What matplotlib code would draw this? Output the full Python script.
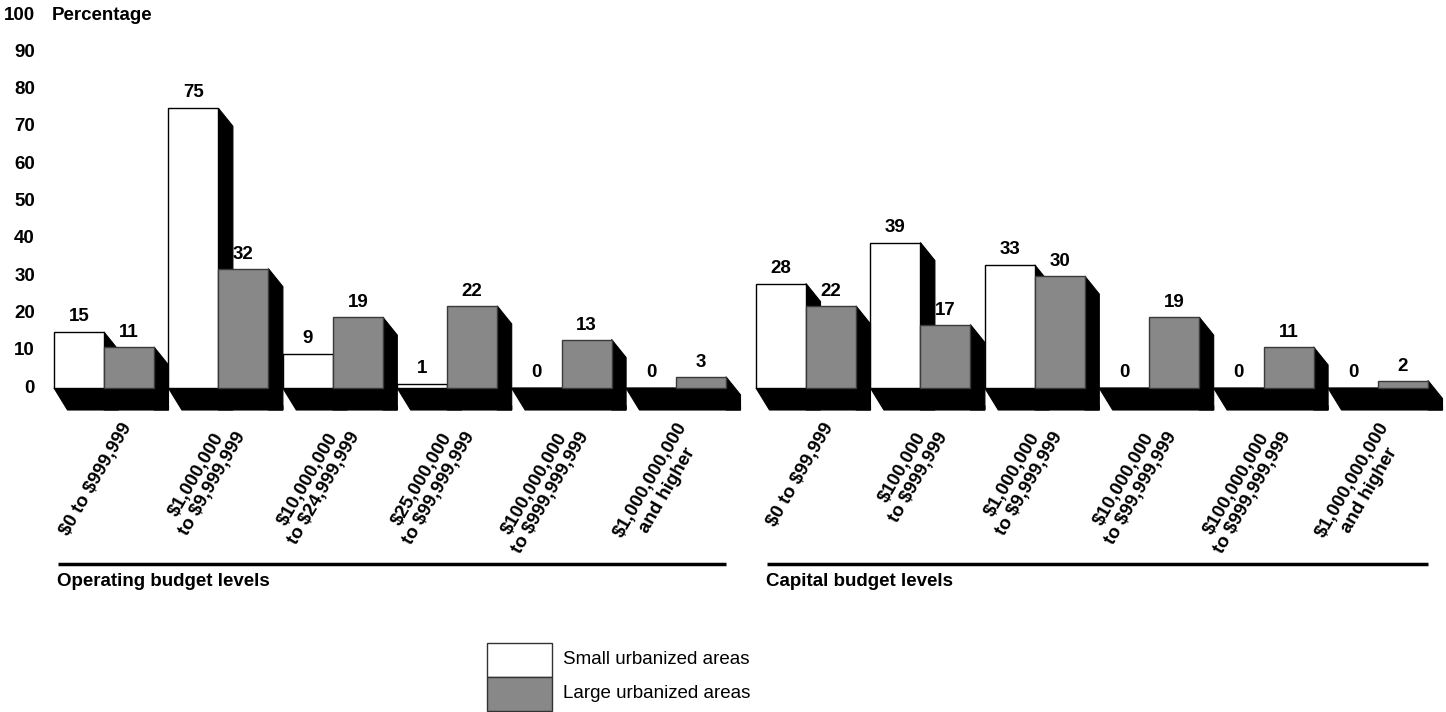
import matplotlib
matplotlib.use('Agg')
import matplotlib.pyplot as plt
from matplotlib.patches import Polygon, Rectangle

plt.rcParams['font.family'] = ['Liberation Sans', 'DejaVu Sans']

# ---------------- data ----------------
operating_categories = ["$0 to $999,999", "$1,000,000\nto $9,999,999",
                        "$10,000,000\nto $24,999,999", "$25,000,000\nto $99,999,999",
                        "$100,000,000\nto $999,999,999", "$1,000,000,000\nand higher"]
operating_small = [15, 75, 9, 1, 0, 0]
operating_large = [11, 32, 19, 22, 13, 3]

capital_categories = ["$0 to $99,999", "$100,000\nto $999,999",
                      "$1,000,000\nto $9,999,999", "$10,000,000\nto $99,999,999",
                      "$100,000,000\nto $999,999,999", "$1,000,000,000\nand higher"]
capital_small = [28, 39, 33, 0, 0, 0]
capital_large = [22, 17, 30, 19, 11, 2]

y_ticks = list(range(0, 101, 10))
y_title = "Percentage"
section_titles = ["Operating budget levels", "Capital budget levels"]
series_names = ["Small urbanized areas", "Large urbanized areas"]

# ---------------- layout ----------------
W, H = 1446, 712
fig = plt.figure(figsize=(W / 100, H / 100), dpi=100)
ax = fig.add_axes([0, 0, 1, 1])
PX = 3.73      # pixels per percentage point
BASE = 388     # pixel row of the zero line
ax.set_xlim(0, W)
ax.set_ylim(-(H - BASE) / PX, BASE / PX)
ax.axis('off')


def yp(p):
    """pixel row -> data y"""
    return (BASE - p) / PX


BAR_W = 50
PITCH = 114.4
DX = 14.5
DY_SIDE = 18 / PX
DX_FLOOR = 13.5
FLOOR_D = 22 / PX
GRAY = '#888888'
EDGE_GRAY = '#3a3a3a'
FS = 13.5

panels = [(54, operating_categories, operating_small, operating_large, section_titles[0], 4),
          (756, capital_categories, capital_small, capital_large, section_titles[1], 11)]

for start, cats, small, large, title, line_off in panels:
    x0s = [start + i * PITCH for i in range(len(cats))]
    yb = -FLOOR_D
    # floor slabs
    for x0 in x0s:
        xr = x0 + 2 * BAR_W
        ax.add_patch(Polygon([(x0, 0), (xr, 0), (xr + DX, -DY_SIDE), (xr + DX, yb),
                              (x0 + DX_FLOOR, yb)], closed=True, facecolor='black',
                             edgecolor='black', lw=0.8, zorder=1))
    # side faces of small-area bars
    for x0, h in zip(x0s, small):
        if h > 0:
            xr = x0 + BAR_W
            ax.add_patch(Polygon([(xr, h), (xr + DX, h - DY_SIDE), (xr + DX, yb), (xr, yb)],
                                 closed=True, facecolor='black', edgecolor='black',
                                 lw=0.8, zorder=2))
    ax.bar(x0s, small, width=BAR_W, align='edge', color='white', edgecolor='black',
           linewidth=1.0, zorder=3)
    # side faces of large-area bars
    for x0, h in zip(x0s, large):
        xr = x0 + 2 * BAR_W
        ax.add_patch(Polygon([(xr, h), (xr + DX, h - DY_SIDE), (xr + DX, yb), (xr, yb)],
                             closed=True, facecolor='black', edgecolor='black',
                             lw=0.8, zorder=4))
    xg = [x0 + BAR_W for x0 in x0s]
    ax.bar(xg, large, width=BAR_W, align='edge', color=GRAY, edgecolor=EDGE_GRAY,
           linewidth=1.0, zorder=5)
    # value labels
    for x0, h in zip(x0s, small):
        ax.text(x0 + BAR_W / 2, h + 7 / PX, f"{h}", ha='center', va='bottom',
                fontsize=FS, fontweight='bold', zorder=6)
    for x0, h in zip(xg, large):
        ax.text(x0 + BAR_W / 2, h + 6 / PX, f"{h}", ha='center', va='bottom',
                fontsize=FS, fontweight='bold', zorder=6)
    # category labels
    for x0, lab in zip(x0s, cats):
        ax.text(x0 + BAR_W + 31, yp(420), lab, rotation=60, ha='right', va='top',
                multialignment='center', fontsize=FS, fontweight='bold',
                parse_math=False, linespacing=1.15)
    # section rule + title
    xend = x0s[-1] + 2 * BAR_W
    ax.plot([start + line_off, xend], [yp(563.5), yp(563.5)], color='black',
            lw=2.5, solid_capstyle='butt')
    ax.text(start + line_off - 1, yp(582), title, ha='left', va='center',
            fontsize=FS, fontweight='bold')

# y tick labels
for v in y_ticks:
    ax.text(35, v, f"{v}", ha='right', va='center', fontsize=FS, fontweight='bold')
ax.text(52, y_ticks[-1], y_title, ha='left', va='center', fontsize=FS, fontweight='bold')

# legend
leg_colors = ['white', GRAY]
leg_top = [643, 677]
for name, col, top in zip(series_names, leg_colors, leg_top):
    ax.add_patch(Rectangle((487, yp(top + 34)), 65, 34 / PX, facecolor=col,
                           edgecolor='#333333', lw=1.0))
    ax.text(563, yp(top + 17), name, ha='left', va='center', fontsize=FS)

fig.savefig('out.png', dpi=100)
